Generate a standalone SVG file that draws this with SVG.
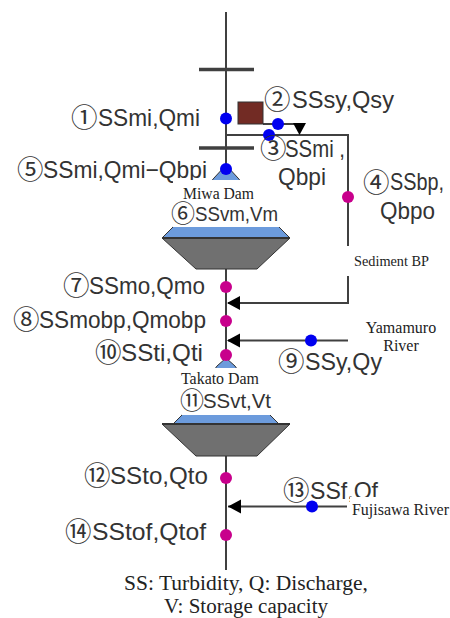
<svg xmlns="http://www.w3.org/2000/svg" width="450" height="618" viewBox="0 0 450 618">
<style>
.ln{stroke:#404040;stroke-width:2;fill:none}
.bar{stroke:#404040;stroke-width:3.5;fill:none}
.b{fill:#0000f0}
.m{fill:#c8008c}
.w{fill:#fff}
.l{font-family:"Liberation Sans",Arial,sans-serif;font-size:24px;fill:#333}
.c{font-family:"Noto Sans CJK JP",sans-serif;font-size:26.500px;fill:#333}
.t{font-family:"Liberation Serif","Times New Roman",serif;font-size:16px;fill:#222}
.s{font-size:14.500px}
.f{font-family:"Liberation Serif","Times New Roman",serif;font-size:20.500px;fill:#222}
.water{fill:#6c9bdc;stroke:#333;stroke-width:1}
.grey{fill:#707070;stroke:#333;stroke-width:1}
</style>
<rect width="450" height="618" fill="#fff"/>
<g id="connectors">
<path class="ln" d="M226 12V570"/>
<path class="bar" d="M199 69.500H254M199 148H254"/>
<path class="ln" d="M263 124H300"/>
<path class="ln" d="M226 135H348V246"/>
<path class="ln" d="M348 276V303H228"/>
<path class="ln" d="M348 340.500H228"/>
<path class="ln" d="M347 506.500H228"/>
<path d="M227 303L240 296V310Z M227 340.500L240 333.500V347.500Z M228 506.500L241 499.500V513.500Z" fill="#000"/>
<path d="M293 123H306L299.500 135Z" fill="#000"/>
</g>
<g id="reservoir-miwa">
<path class="water" d="M226 165L214 178L173 227L162 238H290L279 227L238 178Z"/>
<path class="grey" d="M162 238H290L257 269H196Z"/>
<path d="M162 238H290" stroke="#333" stroke-width="2"/>
</g>
<g id="reservoir-takato">
<path class="water" d="M226 358L217 366L182 415L173 424H279L270 415L235 366Z"/>
<path class="grey" d="M162 424H290L257 456H196Z"/>
<path d="M162 424H290" stroke="#333" stroke-width="2"/>
</g>
<g id="node-1"><circle class="b" cx="226" cy="118.500" r="6"/><text class="c" x="71" y="127">①</text><text class="l" x="98" y="126" textLength="102" lengthAdjust="spacingAndGlyphs">SSmi,Qmi</text></g>
<g id="node-2"><rect x="238" y="102" width="25" height="22" fill="#722b24" stroke="#333" stroke-width="1"/><circle class="b" cx="278" cy="124" r="6"/><text class="c" x="264" y="109">②</text><text class="l" x="292" y="108" textLength="102" lengthAdjust="spacingAndGlyphs">SSsy,Qsy</text></g>
<g id="node-3"><circle class="b" cx="269" cy="135" r="6"/><text class="c" x="260" y="158">③</text><text class="l" x="285" y="157" textLength="60" lengthAdjust="spacingAndGlyphs">SSmi ,</text><text class="l" x="278" y="185" textLength="48" lengthAdjust="spacingAndGlyphs">Qbpi</text></g>
<g id="node-4"><circle class="m" cx="348" cy="197" r="6"/><text class="c" x="363" y="192">④</text><text class="l" x="390" y="190" textLength="54" lengthAdjust="spacingAndGlyphs">SSbp,</text><text class="l" x="380" y="219" textLength="55" lengthAdjust="spacingAndGlyphs">Qbpo</text></g>
<g id="node-5"><circle class="b" cx="226" cy="169" r="6"/><text class="c" x="17" y="179">⑤</text><text class="l" x="43" y="178" textLength="164" lengthAdjust="spacingAndGlyphs">SSmi,Qmi−Qbpi</text></g>
<g id="masks">
<rect class="w" x="173" y="180" width="107" height="47"/>
<rect class="w" x="182" y="368" width="89" height="47"/>
<rect class="w" x="345" y="246" width="105" height="30"/>
<rect class="w" x="350" y="497" width="100" height="23"/>
</g>
<g id="node-6"><text class="t" x="183" y="199" textLength="71" lengthAdjust="spacingAndGlyphs">Miwa Dam</text><text class="c" x="171" y="222" style="font-size:24px">⑥</text><text class="l" x="195" y="221" textLength="83" lengthAdjust="spacingAndGlyphs" style="font-size:21px">SSvm,Vm</text></g>
<g id="label-sediment"><text class="t s" x="354" y="266" textLength="75" lengthAdjust="spacingAndGlyphs">Sediment BP</text></g>
<g id="node-7"><circle class="m" cx="226" cy="287" r="6"/><text class="c" x="63" y="295">⑦</text><text class="l" x="89" y="294" textLength="116" lengthAdjust="spacingAndGlyphs">SSmo,Qmo</text></g>
<g id="node-8"><circle class="m" cx="226" cy="321" r="6"/><text class="c" x="13" y="329">⑧</text><text class="l" x="39" y="328" textLength="167" lengthAdjust="spacingAndGlyphs">SSmobp,Qmobp</text></g>
<g id="node-9"><circle class="b" cx="311" cy="340.500" r="6"/><text class="c" x="278" y="371">⑨</text><text class="l" x="305" y="370" textLength="77" lengthAdjust="spacingAndGlyphs">SSy,Qy</text></g>
<g id="label-yamamuro"><text class="t" x="401" y="333" text-anchor="middle">Yamamuro</text><text class="t" x="401" y="351" text-anchor="middle">River</text></g>
<g id="node-10"><circle class="m" cx="226" cy="355" r="6"/><text class="c" x="95" y="362">⑩</text><text class="l" x="121" y="361" textLength="82" lengthAdjust="spacingAndGlyphs">SSti,Qti</text></g>
<g id="node-11"><text class="t" x="181" y="384" textLength="78" lengthAdjust="spacingAndGlyphs">Takato Dam</text><text class="c" x="180" y="409" style="font-size:24px">⑪</text><text class="l" x="203" y="408" textLength="68" lengthAdjust="spacingAndGlyphs" style="font-size:21px">SSvt,Vt</text></g>
<g id="node-12"><circle class="m" cx="226" cy="478" r="6"/><text class="c" x="84" y="485">⑫</text><text class="l" x="110" y="484" textLength="98" lengthAdjust="spacingAndGlyphs">SSto,Qto</text></g>
<g id="node-13"><circle class="b" cx="312" cy="506.500" r="6"/><text class="c" x="283" y="500">⑬</text><text class="l" x="310" y="499" textLength="68" lengthAdjust="spacingAndGlyphs">SSf,Qf</text><rect class="w" x="350" y="497" width="100" height="9"/><text class="t" x="352" y="515" textLength="97" lengthAdjust="spacingAndGlyphs">Fujisawa River</text></g>
<g id="node-14"><circle class="m" cx="226" cy="535" r="6"/><text class="c" x="65" y="541">⑭</text><text class="l" x="92" y="540" textLength="114" lengthAdjust="spacingAndGlyphs">SStof,Qtof</text></g>
<g id="legend"><text class="f" x="124" y="590" textLength="244" lengthAdjust="spacingAndGlyphs">SS: Turbidity, Q: Discharge,</text><text class="f" x="164" y="612.500" textLength="164" lengthAdjust="spacingAndGlyphs">V: Storage capacity</text></g>
</svg>
